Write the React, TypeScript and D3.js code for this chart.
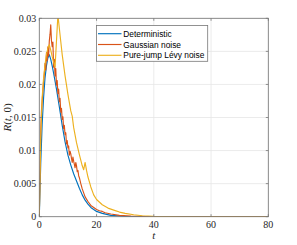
import React from "react";
import * as d3 from "d3";

// Deterministic solution R(t,0)
const detT = [0, 0.5, 1, 1.5, 2, 2.5, 3, 3.5, 4, 4.5, 5, 6, 7, 8, 9, 10, 11, 12, 13, 14, 15, 16, 17, 18, 19, 20, 22, 25, 30, 40, 80];
const detR = [0, 0.008, 0.014, 0.018, 0.021, 0.0228, 0.024, 0.0245, 0.0238, 0.0228, 0.0217, 0.0193, 0.0166, 0.0138, 0.0113, 0.0093, 0.0078, 0.0065, 0.0054, 0.0043, 0.0033, 0.0025, 0.0019, 0.0014, 0.0011, 0.0008, 0.0005, 0.0002, 0.00005, 0, 0];

// Gaussian noise sample path
const gaussT = [0, 0.25, 0.5, 0.75, 1, 1.25, 1.5, 1.75, 2, 2.25, 2.5, 2.75, 3, 3.25, 3.5, 3.75, 4, 4.25, 4.5, 4.75, 5, 5.25, 5.5, 5.75, 6, 6.25, 6.5, 6.75, 7, 7.25, 7.5, 7.75, 8, 8.25, 8.5, 8.75, 9, 9.25, 9.5, 9.75, 10, 10.25, 10.5, 10.75, 11, 11.25, 11.5, 11.75, 12, 12.25, 12.5, 12.75, 13, 13.25, 13.5, 13.75, 14, 14.5, 15, 15.5, 16, 17, 18, 19, 20, 21, 22, 23, 25, 28, 32, 40, 80];
const gaussR = [0, 0.007, 0.013, 0.016, 0.0175, 0.019, 0.0205, 0.0215, 0.0232, 0.0222, 0.0248, 0.0236, 0.0257, 0.0243, 0.0266, 0.0276, 0.029, 0.0266, 0.0257, 0.0264, 0.0226, 0.0238, 0.0213, 0.0224, 0.0199, 0.0206, 0.0186, 0.0193, 0.0174, 0.0179, 0.0158, 0.0164, 0.0147, 0.0151, 0.0133, 0.0138, 0.0124, 0.0127, 0.011, 0.0115, 0.0104, 0.0107, 0.0093, 0.0099, 0.0095, 0.0088, 0.0082, 0.009, 0.0084, 0.0079, 0.0074, 0.0082, 0.0077, 0.0068, 0.007, 0.0062, 0.0059, 0.005, 0.0042, 0.0036, 0.003, 0.0023, 0.0017, 0.0014, 0.0011, 0.0009, 0.0008, 0.0006, 0.0004, 0.0002, 0.0001, 0, 0];

// Pure-jump Levy noise sample path
const levyT = [0, 0.5, 1, 1.5, 2, 2.5, 3, 3.5, 4, 4.5, 5, 5.5, 6.5, 7, 7.5, 8, 9, 10, 11, 11.5, 12, 13, 14, 15, 15.5, 16, 16.5, 17, 18, 19, 20, 22, 24, 26, 28, 30, 33, 36, 40, 50, 80];
const levyR = [0, 0.012, 0.018, 0.021, 0.023, 0.0245, 0.0255, 0.026, 0.0252, 0.0242, 0.0234, 0.0226, 0.0305, 0.0285, 0.0265, 0.0245, 0.0213, 0.0185, 0.016, 0.0152, 0.0135, 0.0112, 0.0094, 0.0077, 0.0071, 0.0082, 0.007, 0.006, 0.0045, 0.0033, 0.0026, 0.0018, 0.0013, 0.001, 0.0007, 0.0005, 0.0003, 0.00015, 0.00005, 0, 0];

const xTicks = [0, 20, 40, 60, 80];
const yTicks = [0, 0.005, 0.01, 0.015, 0.02, 0.025, 0.03];
const yTickLabels = ["0", "0.005", "0.01", "0.015", "0.02", "0.025", "0.03"];

const seriesNames = ["Deterministic", "Gaussian noise", "Pure-jump Lévy noise"];
const colors = ["#0072BD", "#D95319", "#EDB120"];

const W = 297;
const H = 245;
const left = 39.3;
const right = 268.3;
const top = 18.3;
const bottom = 216.7;

const App = () => {
  const x = d3.scaleLinear().domain([0, 80]).range([left, right]);
  const y = d3.scaleLinear().domain([0, 0.03]).range([bottom, top]);

  const line = d3
    .line<[number, number]>()
    .x(d => x(d[0]))
    .y(d => y(d[1]));

  const series = [
    d3.zip(detT, detR) as [number, number][],
    d3.zip(gaussT, gaussR) as [number, number][],
    d3.zip(levyT, levyR) as [number, number][],
  ];

  const serif = "'Liberation Serif', 'DejaVu Serif', serif";
  const sans = "'Liberation Sans', Arial, sans-serif";
  const axisColor = "#777";

  return (
    <svg width={W} height={H} style={{ position: "absolute", left: 0, top: 0, background: "#fff" }}>
      <defs>
        <clipPath id="plot">
          <rect x={left} y={top} width={right - left} height={bottom - top} />
        </clipPath>
      </defs>
      <rect x={left} y={top} width={right - left} height={bottom - top} fill="#fff" />
      {/* grid */}
      {xTicks.map((t, i) => (
        <line key={"gx" + i} x1={x(t)} x2={x(t)} y1={top} y2={bottom} stroke="#e6e6e6" strokeWidth={0.8} />
      ))}
      {yTicks.map((t, i) => (
        <line key={"gy" + i} x1={left} x2={right} y1={y(t)} y2={y(t)} stroke="#e6e6e6" strokeWidth={0.8} />
      ))}
      {/* curves */}
      <g clipPath="url(#plot)">
        {series.map((s, i) => (
          <path key={i} d={line(s) || ""} fill="none" stroke={colors[i]} strokeWidth={1.15} strokeLinejoin="round" />
        ))}
      </g>
      {/* box and ticks */}
      <rect x={left} y={top} width={right - left} height={bottom - top} fill="none" stroke={axisColor} strokeWidth={0.8} />
      {xTicks.map((t, i) => (
        <g key={"tx" + i}>
          <line x1={x(t)} x2={x(t)} y1={bottom} y2={bottom - 2.5} stroke={axisColor} strokeWidth={0.8} />
          <line x1={x(t)} x2={x(t)} y1={top} y2={top + 2.5} stroke={axisColor} strokeWidth={0.8} />
          <text x={x(t)} y={bottom + 11.5} textAnchor="middle" fontFamily={serif} fontSize={10} fill="#262626">
            {t}
          </text>
        </g>
      ))}
      {yTicks.map((t, i) => (
        <g key={"ty" + i}>
          <line x1={left} x2={left + 2.5} y1={y(t)} y2={y(t)} stroke={axisColor} strokeWidth={0.8} />
          <line x1={right} x2={right - 2.5} y1={y(t)} y2={y(t)} stroke={axisColor} strokeWidth={0.8} />
          <text x={left - 3} y={y(t) + 3.3} textAnchor="end" fontFamily={serif} fontSize={10} fill="#262626">
            {yTickLabels[i]}
          </text>
        </g>
      ))}
      {/* axis labels */}
      <text x={(left + right) / 2} y={239} textAnchor="middle" fontFamily={serif} fontStyle="italic" fontSize={11} fill="#262626">
        t
      </text>
      <text
        transform={`translate(10.5 ${(top + bottom) / 2}) rotate(-90)`}
        textAnchor="middle"
        fontFamily={serif}
        fontSize={11}
        fill="#262626"
      >
        <tspan fontStyle="italic">R</tspan>(<tspan fontStyle="italic">t</tspan>, 0)
      </text>
      {/* legend */}
      <rect x={96.5} y={25.5} width={111.2} height={35.8} fill="#fff" stroke={axisColor} strokeWidth={0.8} />
      {seriesNames.map((n, i) => (
        <g key={"lg" + i}>
          <line x1={98} x2={121.5} y1={33.7 + i * 10.8} y2={33.7 + i * 10.8} stroke={colors[i]} strokeWidth={1.15} />
          <text x={123.3} y={33.7 + i * 10.8 + 3} fontFamily={sans} fontSize={8.4} fill="#000">
            {n}
          </text>
        </g>
      ))}
    </svg>
  );
};

export default App;
